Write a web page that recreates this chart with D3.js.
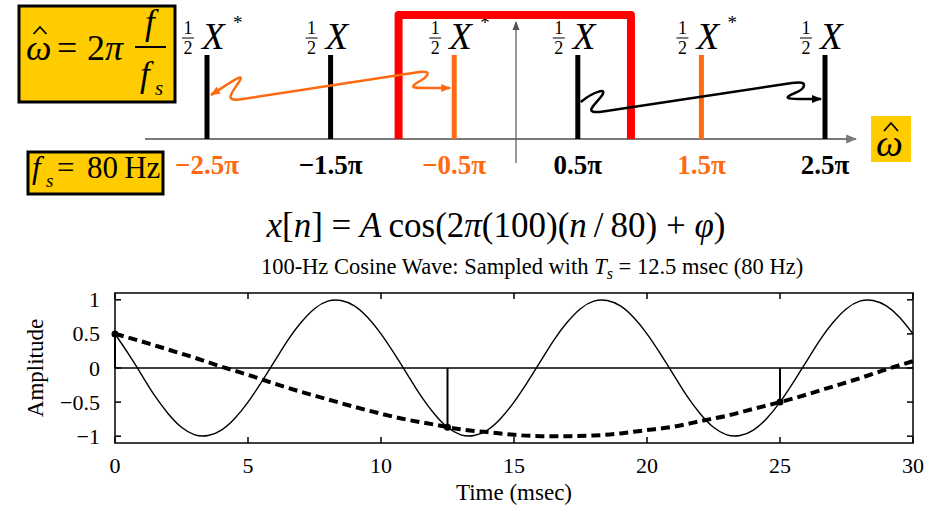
<!DOCTYPE html>
<html>
<head>
<meta charset="utf-8">
<script src="https://cdn.jsdelivr.net/npm/d3@7"></script>
<style>
  body { margin: 0; background: #fff; }
  svg { display: block; }
</style>
</head>
<body>
<div id="container"></div>
<script>
// ---- spectrum (top) data, frequencies in units of pi ----
const specFreqs = [-2.5, -1.5, -0.5, 0.5, 1.5, 2.5];
const specLabels = ["\u22122.5\u03c0", "\u22121.5\u03c0", "\u22120.5\u03c0", "0.5\u03c0", "1.5\u03c0", "2.5\u03c0"];
const specConj = [true, false, true, false, true, false];
const specLineGroup = ["orig", "orig", "alias", "orig", "alias", "orig"];
const specLabelGroup = ["alias", "orig", "alias", "orig", "alias", "orig"];
const bandEdges = [-0.95, 0.93];

// ---- sampled waveform (bottom) data ----
const solidT = [0, 0.5, 1, 1.5, 2, 2.5, 3, 3.5, 4, 4.5, 5, 5.5, 6, 6.5, 7, 7.5, 8, 8.5, 9, 9.5,
  10, 10.5, 11, 11.5, 12, 12.5, 13, 13.5, 14, 14.5, 15, 15.5, 16, 16.5, 17, 17.5, 18, 18.5, 19, 19.5,
  20, 20.5, 21, 21.5, 22, 22.5, 23, 23.5, 24, 24.5, 25, 25.5, 26, 26.5, 27, 27.5, 28, 28.5, 29, 29.5, 30];
const solidV = [0.5, 0.21, -0.1, -0.41, -0.67, -0.87, -0.98, -0.99, -0.91, -0.74,
  -0.5, -0.21, 0.1, 0.41, 0.67, 0.87, 0.98, 0.99, 0.91, 0.74,
  0.5, 0.21, -0.1, -0.41, -0.67, -0.87, -0.98, -0.99, -0.91, -0.74,
  -0.5, -0.21, 0.1, 0.41, 0.67, 0.87, 0.98, 0.99, 0.91, 0.74,
  0.5, 0.21, -0.1, -0.41, -0.67, -0.87, -0.98, -0.99, -0.91, -0.74,
  -0.5, -0.21, 0.1, 0.41, 0.67, 0.87, 0.98, 0.99, 0.91, 0.74, 0.5];
const dashT = [0, 1, 2, 3, 4, 5, 6, 7, 8, 9, 10, 11, 12, 13, 14, 15, 16, 17, 18, 19,
  20, 21, 22, 23, 24, 25, 26, 27, 28, 29, 30];
const dashV = [0.5, 0.39, 0.27, 0.15, 0.02, -0.1, -0.23, -0.35, -0.46, -0.57,
  -0.67, -0.76, -0.83, -0.9, -0.94, -0.98, -1.0, -1.0, -0.99, -0.96,
  -0.91, -0.86, -0.78, -0.7, -0.6, -0.5, -0.39, -0.27, -0.15, -0.02, 0.1];
const sampleT = [0, 12.5, 25];
const sampleV = [0.5, -0.87, -0.5];
const xTicks = [0, 5, 10, 15, 20, 25, 30];
const yTicks = [-1, -0.5, 0, 0.5, 1];
const yTickLabels = ["\u22121", "\u22120.5", "0", "0.5", "1"];

const width = 940, height = 510;
const ORANGE = "#ff6a10", YELLOW = "#ffcc00", RED = "#ff0000";
const groupColor = g => g === "alias" ? ORANGE : "#000";

const svg = d3.select("#container").append("svg")
    .attr("width", width)
    .attr("height", height)
    .attr("font-family", "'Liberation Serif', 'Times New Roman', serif");

const defs = svg.append("defs");
function addArrow(id, color, size) {
    defs.append("marker")
        .attr("id", id)
        .attr("viewBox", "0 0 10 10")
        .attr("refX", 9).attr("refY", 5)
        .attr("markerWidth", size).attr("markerHeight", size)
        .attr("markerUnits", "userSpaceOnUse")
        .attr("orient", "auto-start-reverse")
        .append("path")
        .attr("d", "M0,1 L10,5 L0,9 Z")
        .attr("fill", color);
}
addArrow("arrOrange", ORANGE, 10);
addArrow("arrBlack", "#000", 10);
addArrow("arrGray", "#555", 9);
addArrow("arrAxis", "#7a7a7a", 11);

// small helper for a circumflex hat drawn as a path
function hat(cx, yTop, w, h) {
    svg.append("path")
        .attr("d", `M${cx - w / 2},${yTop + h} L${cx},${yTop} L${cx + w / 2},${yTop + h}`)
        .attr("fill", "none").attr("stroke", "#000").attr("stroke-width", 1.8);
}

// ================= top: spectrum diagram =================
const wx = d3.scaleLinear().domain([-2.5, 2.5]).range([207, 825]);
const axisY = 139, lineTop = 55;

// horizontal omega axis
svg.append("line")
    .attr("x1", 145).attr("x2", 856)
    .attr("y1", axisY).attr("y2", axisY)
    .attr("stroke", "#7a7a7a").attr("stroke-width", 2)
    .attr("marker-end", "url(#arrAxis)");

// vertical axis at omega = 0
svg.append("line")
    .attr("x1", wx(0)).attr("x2", wx(0))
    .attr("y1", 163).attr("y2", 22)
    .attr("stroke", "#555").attr("stroke-width", 1.2)
    .attr("marker-end", "url(#arrGray)");

// spectral lines
specFreqs.forEach((f, i) => {
    svg.append("line")
        .attr("x1", wx(f)).attr("x2", wx(f))
        .attr("y1", lineTop).attr("y2", axisY)
        .attr("stroke", groupColor(specLineGroup[i]))
        .attr("stroke-width", 5);

    svg.append("text")
        .attr("x", wx(f)).attr("y", 174)
        .attr("text-anchor", "middle")
        .attr("font-size", 27).attr("font-weight", "bold")
        .attr("fill", groupColor(specLabelGroup[i]))
        .text(specLabels[i]);

    // 1/2 X or 1/2 X*
    const g = svg.append("g").attr("transform", `translate(${wx(f)},0)`);
    g.append("text").attr("x", -19).attr("y", 34).attr("text-anchor", "middle")
        .attr("font-size", 18).text("1");
    g.append("line").attr("x1", -25).attr("x2", -13).attr("y1", 38).attr("y2", 38)
        .attr("stroke", "#000").attr("stroke-width", 1);
    g.append("text").attr("x", -19).attr("y", 54).attr("text-anchor", "middle")
        .attr("font-size", 18).text("2");
    g.append("text").attr("x", -5).attr("y", 49)
        .attr("font-size", 37).attr("font-style", "italic").text("X");
    if (specConj[i]) {
        g.append("text").attr("x", 26).attr("y", 29)
            .attr("font-size", 19).text("*");
    }
});

// red band (principal interval)
svg.append("path")
    .attr("d", `M${wx(bandEdges[0])},${axisY} L${wx(bandEdges[0])},15 L${wx(bandEdges[1])},15 L${wx(bandEdges[1])},${axisY}`)
    .attr("fill", "none")
    .attr("stroke", RED).attr("stroke-width", 8)
    .attr("stroke-linejoin", "round");

// orange alias arrow: -2.5pi <-> -0.5pi
const oa = wx(-2.5), ob = wx(-0.5);
svg.append("path")
    .attr("d", `M${oa + 4},95 C${oa + 20},85 ${oa + 40},70 ${oa + 32},82 ` +
               `C${oa + 24},94 ${oa + 16},102 ${oa + 36},99 L${ob - 35},72 ` +
               `C${ob - 20},70 ${ob - 28},78 ${ob - 36},82 C${ob - 46},88 ${ob - 40},88 ${ob - 28},88 L${ob - 4},88`)
    .attr("fill", "none")
    .attr("stroke", ORANGE).attr("stroke-width", 2.5)
    .attr("marker-start", "url(#arrOrange)")
    .attr("marker-end", "url(#arrOrange)");

// black alias arrow: 0.5pi -> 2.5pi
const ba = wx(0.5), bb = wx(2.5);
svg.append("path")
    .attr("d", `M${ba + 3},102 C${ba + 15},92 ${ba + 32},86 ${ba + 23},97 ` +
               `C${ba + 16},106 ${ba + 6},113 ${ba + 22},112 L${bb - 33},83 ` +
               `C${bb - 15},80 ${bb - 20},89 ${bb - 30},93 C${bb - 42},98 ${bb - 38},99 ${bb - 26},99 L${bb - 4},99`)
    .attr("fill", "none")
    .attr("stroke", "#000").attr("stroke-width", 2.5)
    .attr("marker-end", "url(#arrBlack)");

// yellow box: omega-hat = 2 pi f / fs
svg.append("rect").attr("x", 19).attr("y", 6).attr("width", 156).attr("height", 96)
    .attr("fill", YELLOW).attr("stroke", "#000").attr("stroke-width", 3);
svg.append("text").attr("x", 26).attr("y", 60).attr("font-size", 36)
    .attr("font-style", "italic").text("\u03c9");
hat(40, 27, 13, 7);
svg.append("text").attr("x", 57).attr("y", 60).attr("font-size", 36).text("=");
svg.append("text").attr("x", 87).attr("y", 60).attr("font-size", 36).text("2");
svg.append("text").attr("x", 105).attr("y", 60).attr("font-size", 36)
    .attr("font-style", "italic").text("\u03c0");
svg.append("line").attr("x1", 135).attr("x2", 166).attr("y1", 47).attr("y2", 47)
    .attr("stroke", "#000").attr("stroke-width", 2);
svg.append("text").attr("x", 145).attr("y", 34).attr("font-size", 35)
    .attr("font-style", "italic").text("f");
svg.append("text").attr("x", 140).attr("y", 86).attr("font-size", 35)
    .attr("font-style", "italic").text("f");
svg.append("text").attr("x", 155).attr("y", 95).attr("font-size", 21)
    .attr("font-style", "italic").text("s");

// yellow box: fs = 80 Hz
svg.append("rect").attr("x", 28).attr("y", 152).attr("width", 135).attr("height", 42)
    .attr("fill", YELLOW).attr("stroke", "#000").attr("stroke-width", 3);
svg.append("text").attr("x", 32).attr("y", 178).attr("font-size", 31)
    .attr("font-style", "italic").text("f");
svg.append("text").attr("x", 46).attr("y", 187).attr("font-size", 19)
    .attr("font-style", "italic").text("s");
svg.append("text").attr("x", 57).attr("y", 178).attr("font-size", 31).text("=");
svg.append("text").attr("x", 87).attr("y", 178).attr("font-size", 31).text("80\u2009Hz");

// yellow box: omega-hat axis label
svg.append("rect").attr("x", 871).attr("y", 116).attr("width", 40).attr("height", 46)
    .attr("fill", YELLOW);
svg.append("text").attr("x", 876).attr("y", 156).attr("font-size", 38)
    .attr("font-style", "italic").text("\u03c9");
hat(891, 123, 14, 8);

// formula
const formula = svg.append("text").attr("x", 496).attr("y", 237)
    .attr("text-anchor", "middle").attr("font-size", 35);
[["x", true], ["[", false], ["n", true], ["] = ", false], ["A", true], ["\u2009cos(2", false],
 ["\u03c0", true], ["(100)(", false], ["n", true], ["\u2009/\u200980) + ", false], ["\u03c6", true], [")", false]]
    .forEach(([s, it]) => formula.append("tspan")
        .attr("font-style", it ? "italic" : "normal").text(s));

// ================= bottom: waveform plot =================
const x = d3.scaleLinear().domain([0, 30]).range([115, 913]);
const y = d3.scaleLinear().domain([-1.1, 1.1]).range([443, 293]);

// title
const title = svg.append("text").attr("x", 532).attr("y", 274)
    .attr("text-anchor", "middle").attr("font-size", 22.5);
title.append("tspan").text("100-Hz Cosine Wave: Sampled with ");
title.append("tspan").attr("font-style", "italic").text("T");
title.append("tspan").attr("font-style", "italic").attr("font-size", 16).attr("dy", 5).text("s");
title.append("tspan").attr("dy", -5).text(" = 12.5 msec (80 Hz)");

// zero line
svg.append("line")
    .attr("x1", x(0)).attr("x2", x(30))
    .attr("y1", y(0)).attr("y2", y(0))
    .attr("stroke", "#000").attr("stroke-width", 1.3);

const line = d3.line().curve(d3.curveNatural)
    .x(d => x(d[0])).y(d => y(d[1]));

svg.append("path")
    .attr("d", line(solidT.map((t, i) => [t, solidV[i]])))
    .attr("fill", "none").attr("stroke", "#000").attr("stroke-width", 1.4);

svg.append("path")
    .attr("d", line(dashT.map((t, i) => [t, dashV[i]])))
    .attr("fill", "none").attr("stroke", "#000").attr("stroke-width", 4)
    .attr("stroke-dasharray", "9,5");

// sample stems
sampleT.forEach((t, i) => {
    svg.append("line")
        .attr("x1", x(t)).attr("x2", x(t))
        .attr("y1", y(0)).attr("y2", y(sampleV[i]))
        .attr("stroke", "#000").attr("stroke-width", 2);
    svg.append("circle")
        .attr("cx", x(t)).attr("cy", y(sampleV[i])).attr("r", 3.5)
        .attr("fill", "#000");
});

// frame
svg.append("rect")
    .attr("x", x(0)).attr("y", y(1.1))
    .attr("width", x(30) - x(0)).attr("height", y(-1.1) - y(1.1))
    .attr("fill", "none").attr("stroke", "#000").attr("stroke-width", 1.5);

// inward ticks
const tickLen = 6;
xTicks.forEach(t => {
    svg.append("line").attr("x1", x(t)).attr("x2", x(t))
        .attr("y1", y(-1.1)).attr("y2", y(-1.1) - tickLen)
        .attr("stroke", "#000").attr("stroke-width", 1.5);
    svg.append("line").attr("x1", x(t)).attr("x2", x(t))
        .attr("y1", y(1.1)).attr("y2", y(1.1) + tickLen)
        .attr("stroke", "#000").attr("stroke-width", 1.5);
    svg.append("text").attr("x", x(t)).attr("y", 473)
        .attr("text-anchor", "middle").attr("font-size", 22).text(t);
});
yTicks.forEach((v, i) => {
    svg.append("line").attr("x1", x(0)).attr("x2", x(0) + tickLen)
        .attr("y1", y(v)).attr("y2", y(v))
        .attr("stroke", "#000").attr("stroke-width", 1.5);
    svg.append("line").attr("x1", x(30)).attr("x2", x(30) - tickLen)
        .attr("y1", y(v)).attr("y2", y(v))
        .attr("stroke", "#000").attr("stroke-width", 1.5);
    svg.append("text").attr("x", 100).attr("y", y(v) + 7.5)
        .attr("text-anchor", "end").attr("font-size", 22).text(yTickLabels[i]);
});

svg.append("text")
    .attr("x", 514).attr("y", 500)
    .attr("text-anchor", "middle").attr("font-size", 23)
    .text("Time (msec)");

svg.append("text")
    .attr("transform", `translate(43,${y(0)}) rotate(-90)`)
    .attr("text-anchor", "middle").attr("font-size", 23)
    .text("Amplitude");
</script>
</body>
</html>
